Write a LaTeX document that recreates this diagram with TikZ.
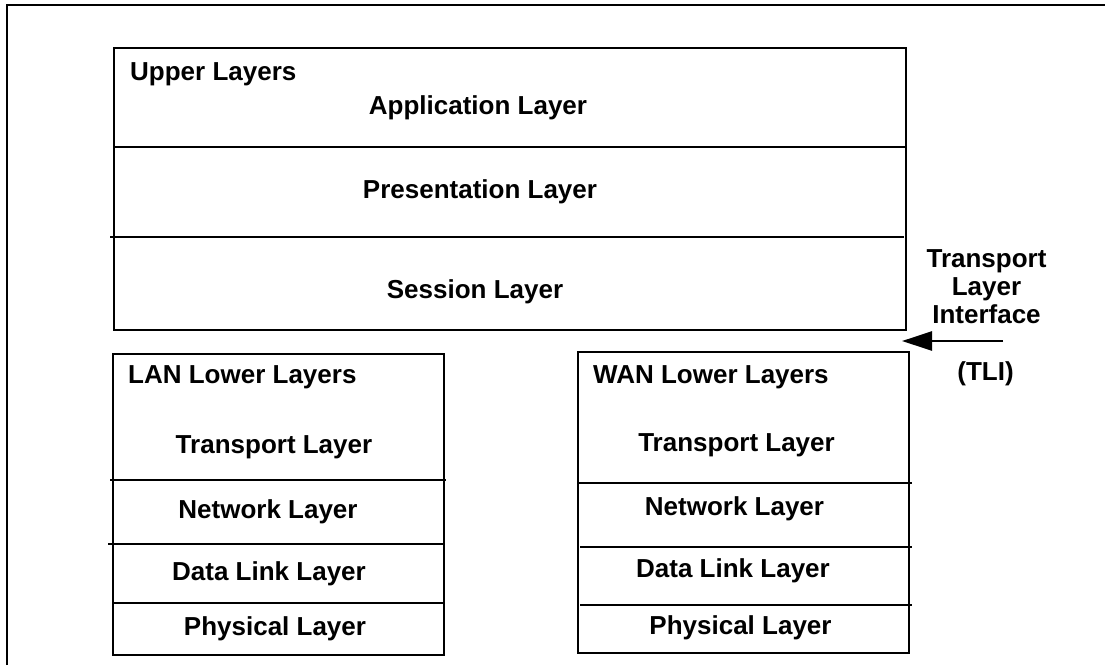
\documentclass[tikz,border=0pt]{standalone}
\usepackage{fontspec}
\setmainfont{Liberation Sans}
\usetikzlibrary{arrows.meta}

\tikzset{
  layerbox/.style={draw, line width=1.6pt, rectangle, inner sep=0pt},
  divider/.style={line width=1.4pt},
  frameline/.style={line width=1.6pt},
  lbl/.style={anchor=base, inner sep=0pt, font=\fontsize{26}{29}\selectfont\bfseries},
  title/.style={lbl, anchor=base west},
  tliarrow/.style={line width=2.6pt, -{Triangle[length=30pt,width=19pt]}}
}

\begin{document}
\begin{tikzpicture}[x=1pt, y=-1pt]
\useasboundingbox (0,0) rectangle (1105,665);

% page frame (top and left edges)
\draw[frameline] (7,665) -- (7,5) -- (1105,5);

% the three stacks
\node[layerbox, minimum width=792pt, minimum height=282pt] (upper) at (510,189) {};
\node[layerbox, minimum width=331pt, minimum height=301pt] (lan) at (278.5,504.5) {};
\node[layerbox, minimum width=331pt, minimum height=301pt] (wan) at (743.5,502.5) {};

% layer separators
\draw[divider] (114,147) -- (906,147);
\draw[divider] (110,237) -- (904,237);
\draw[divider] (110,480) -- (446,480);
\draw[divider] (108,544) -- (444,544);
\draw[divider] (113,603) -- (444,603);
\draw[divider] (578,483) -- (912,483);
\draw[divider] (580,547) -- (912,547);
\draw[divider] (580,605) -- (912,605);

% upper layers
\node[title] (upt) at (130,80) {Upper Layers};
\node[lbl] (app) at (478,114) {Application Layer};
\node[lbl] (pres) at (480,198) {Presentation Layer};
\node[lbl] (sess) at (475,298) {Session Layer};

% LAN lower layers
\node[title] (lant) at (128,383) {LAN Lower Layers};
\node[lbl] (lantr) at (274,453) {Transport Layer};
\node[lbl] (lannet) at (268,518) {Network Layer};
\node[lbl] (landl) at (269,580) {Data Link Layer};
\node[lbl] (lanph) at (275,635) {Physical Layer};

% WAN lower layers
\node[title] (want) at (593,383) {WAN Lower Layers};
\node[lbl] (wantr) at (736.5,451) {Transport Layer};
\node[lbl] (wannet) at (734.5,515) {Network Layer};
\node[lbl] (wandl) at (733,577) {Data Link Layer};
\node[lbl] (wanph) at (740.5,634) {Physical Layer};

% transport layer interface
\node[lbl] (tli1) at (986.5,267) {Transport};
\node[lbl] (tli2) at (986.5,295) {Layer};
\node[lbl] (tli3) at (986.5,323) {Interface};
\node[lbl] (tli4) at (985.5,380) {(TLI)};
\coordinate (tlifrom) at (1003,341);
\coordinate (tlito) at (902,341);
\draw[tliarrow] (tlifrom) -- (tlito);
\end{tikzpicture}
\end{document}
